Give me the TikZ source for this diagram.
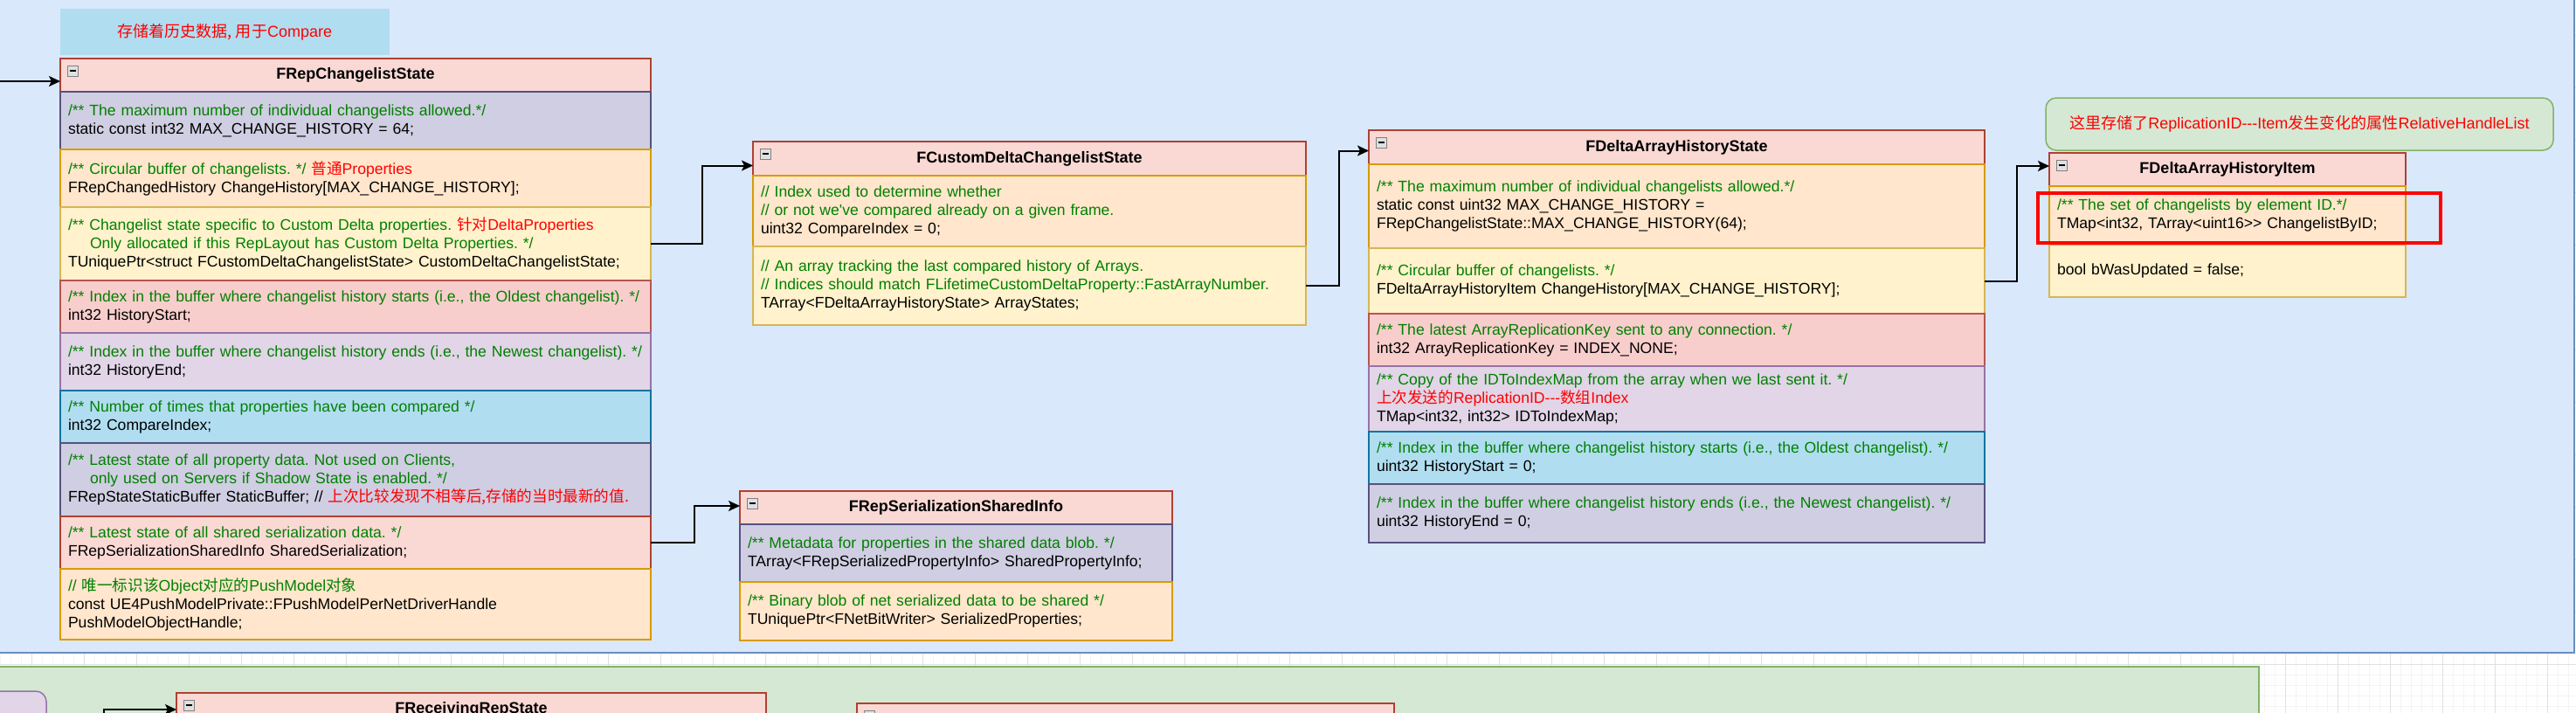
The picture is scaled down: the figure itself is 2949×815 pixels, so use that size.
\documentclass[tikz,border=0pt]{standalone}
\usepackage{fontspec}
\setmainfont{Liberation Sans}[Ligatures=TeXOff]
\newfontfamily\cjk{Noto Sans CJK SC}
\usetikzlibrary{positioning,arrows.meta}

\definecolor{bgblue}{HTML}{DAE8FC}
\definecolor{bgblueline}{HTML}{6C8EBF}
\definecolor{bggreen}{HTML}{D5E8D4}
\definecolor{bggreenline}{HTML}{82B366}
\definecolor{hdrfill}{HTML}{FAD9D5}
\definecolor{hdrline}{HTML}{AE4132}
\definecolor{purplefill}{HTML}{D0CEE2}
\definecolor{purpleline}{HTML}{56517E}
\definecolor{orangefill}{HTML}{FFE6CC}
\definecolor{orangeline}{HTML}{D79B00}
\definecolor{yellowfill}{HTML}{FFF2CC}
\definecolor{yellowline}{HTML}{D6B656}
\definecolor{redfill}{HTML}{F8CECC}
\definecolor{redline}{HTML}{B85450}
\definecolor{pinkfill}{HTML}{E1D5E7}
\definecolor{pinkline}{HTML}{9673A6}
\definecolor{bluefill}{HTML}{B1DDF0}
\definecolor{blueline}{HTML}{10739E}
\definecolor{codegreen}{RGB}{0,128,0}
\definecolor{notered}{RGB}{255,0,0}
\definecolor{gridminor}{HTML}{F4F4F4}
\definecolor{gridmajor}{HTML}{E0E0E0}

\newcommand{\cmnt}[1]{{\color{codegreen}\mbox{#1}}}
\newcommand{\zhred}[1]{{\color{notered}\cjk #1}}
\newcommand{\redtxt}[1]{{\color{notered}#1}}
\newcommand{\foldmark}[1]{%
  \draw[draw=gray, fill=black!12, line width=0.8pt] ([xshift=8pt,yshift=-8pt]#1.north west) rectangle ++(12,-12);
  \draw[line width=1.6pt] ([xshift=10.5pt,yshift=-14pt]#1.north west) -- ++(7,0);}

\tikzset{
  hdr/.style={draw=hdrline, fill=hdrfill, anchor=north west, align=center, font=\fontsize{18}{21}\selectfont\bfseries, minimum height=38pt, inner xsep=9pt, inner ysep=0pt, outer sep=0pt},
  row/.style={align=left, font=\fontsize{17.6}{21}\selectfont\frenchspacing, inner xsep=9pt, inner ysep=0pt, outer sep=0pt},
  cpurple/.style={row, draw=purpleline, fill=purplefill},
  corange/.style={row, draw=orangeline, fill=orangefill},
  cyellow/.style={row, draw=yellowline, fill=yellowfill},
  cred/.style={row, draw=redline, fill=redfill},
  cpink/.style={row, draw=pinkline, fill=pinkfill},
  cblue/.style={row, draw=blueline, fill=bluefill},
  csalmon/.style={row, draw=hdrline, fill=hdrfill},
  conn/.style={->, line width=2pt},
  hilite/.style={draw=notered, line width=3.5pt, fill=none},
}

\begin{document}
\frenchspacing
\begin{tikzpicture}[x=1pt, y=1pt, line width=1.5pt, font=\fontsize{18}{21}\selectfont\frenchspacing,
  >={Stealth[length=13pt,width=12pt,inset=3pt]}]
\useasboundingbox (0,0) rectangle (2949,-815);

% canvas and grid
\fill[white] (0,0) rectangle (2949,-815);
\begin{scope}[shift={(36,-40)}]
\draw[gridminor, line width=0.6pt, step=12pt] (-48,52) grid (2925,-787);
\draw[gridmajor, line width=0.8pt, step=60pt] (-48,52) grid (2925,-787);
\end{scope}

% containers
\draw[draw=bgblueline, fill=bgblue] (-20,20) rectangle (2947,-747);
\draw[draw=bggreenline, fill=bggreen] (-20,-763) rectangle (2586,-850);
\draw[draw=pinkline, fill=pinkfill, rounded corners=12pt] (-20,-791) rectangle (53,-850);

% notes
\node[fill=bluefill, minimum width=377pt, minimum height=53pt, inner sep=0pt] (note1) at (257.5,-36.5)
  {\zhred{存储着历史数据, 用于}\redtxt{Compare}};
\node[draw=bggreenline, fill=bggreen, rounded corners=12pt, minimum width=581pt, minimum height=60pt, inner sep=0pt] (note2) at (2632.5,-142)
  {\zhred{这里存储了}\redtxt{ReplicationID-{}-{}-Item}\zhred{发生变化的属性}\redtxt{RelativeHandleList}};

% FRepChangelistState
\node[hdr, text width=658pt] (rcs) at (69,-67) {FRepChangelistState};
\node[cpurple, text width=658pt, minimum height=66pt, below=0pt of rcs] (rcs1)
  {\cmnt{/** The maximum number of individual changelists allowed.*/}\\
   static const int32 MAX\_CHANGE\_HISTORY = 64;};
\node[corange, text width=658pt, minimum height=66pt, below=0pt of rcs1] (rcs2)
  {\cmnt{/** Circular buffer of changelists. */} \zhred{普通}\redtxt{Properties}\\
   FRepChangedHistory ChangeHistory[MAX\_CHANGE\_HISTORY];};
\node[cyellow, text width=658pt, minimum height=84pt, below=0pt of rcs2] (rcs3)
  {\cmnt{/** Changelist state specific to Custom Delta properties.} \zhred{针对}\redtxt{DeltaProperties}\\
   \hspace*{25pt}\cmnt{Only allocated if this RepLayout has Custom Delta Properties. */}\\
   TUniquePtr<struct FCustomDeltaChangelistState> CustomDeltaChangelistState;};
\node[cred, text width=658pt, minimum height=60pt, below=0pt of rcs3] (rcs4)
  {\cmnt{/** Index in the buffer where changelist history starts (i.e., the Oldest changelist). */}\\
   int32 HistoryStart;};
\node[cpink, text width=658pt, minimum height=66pt, below=0pt of rcs4] (rcs5)
  {\cmnt{/** Index in the buffer where changelist history ends (i.e., the Newest changelist). */}\\
   int32 HistoryEnd;};
\node[cblue, text width=658pt, minimum height=60pt, below=0pt of rcs5] (rcs6)
  {\cmnt{/** Number of times that properties have been compared */}\\
   int32 CompareIndex;};
\node[cpurple, text width=658pt, minimum height=84pt, below=0pt of rcs6] (rcs7)
  {\cmnt{/** Latest state of all property data. Not used on Clients,}\\
   \hspace*{25pt}\cmnt{only used on Servers if Shadow State is enabled. */}\\
   FRepStateStaticBuffer StaticBuffer; // \zhred{上次比较发现不相等后,存储的当时最新的值.}};
\node[csalmon, text width=658pt, minimum height=60pt, below=0pt of rcs7] (rcs8)
  {\cmnt{/** Latest state of all shared serialization data. */}\\
   FRepSerializationSharedInfo SharedSerialization;};
\node[corange, text width=658pt, minimum height=81pt, below=0pt of rcs8] (rcs9)
  {\cmnt{// {\cjk 唯一标识该}Object{\cjk 对应的}PushModel{\cjk 对象}}\\
   const UE4PushModelPrivate::FPushModelPerNetDriverHandle\\
   PushModelObjectHandle;};
\foldmark{rcs}

% FCustomDeltaChangelistState
\node[hdr, text width=615pt, minimum height=39pt] (fcd) at (862,-162) {FCustomDeltaChangelistState};
\node[corange, text width=615pt, minimum height=81pt, below=0pt of fcd] (fcd1)
  {\cmnt{// Index used to determine whether}\\
   \cmnt{// or not we've compared already on a given frame.}\\
   uint32 CompareIndex = 0;};
\node[cyellow, text width=615pt, minimum height=90pt, below=0pt of fcd1] (fcd2)
  {\cmnt{// An array tracking the last compared history of Arrays.}\\
   \cmnt{// Indices should match FLifetimeCustomDeltaProperty::FastArrayNumber.}\\
   TArray<FDeltaArrayHistoryState> ArrayStates;};
\foldmark{fcd}

% FRepSerializationSharedInfo
\node[hdr, text width=477pt] (frs) at (847,-562) {FRepSerializationSharedInfo};
\node[cpurple, text width=477pt, minimum height=66pt, below=0pt of frs] (frs1)
  {\cmnt{/** Metadata for properties in the shared data blob. */}\\
   TArray<FRepSerializedPropertyInfo> SharedPropertyInfo;};
\node[corange, text width=477pt, minimum height=67pt, below=0pt of frs1] (frs2)
  {\cmnt{/** Binary blob of net serialized data to be shared */}\\
   TUniquePtr<FNetBitWriter> SerializedProperties;};
\foldmark{frs}

% FDeltaArrayHistoryState
\node[hdr, text width=687pt, minimum height=39pt] (fdh) at (1567,-149) {FDeltaArrayHistoryState};
\node[corange, text width=687pt, minimum height=96pt, below=0pt of fdh] (fdh1)
  {\cmnt{/** The maximum number of individual changelists allowed.*/}\\
   static const uint32 MAX\_CHANGE\_HISTORY =\\
   FRepChangelistState::MAX\_CHANGE\_HISTORY(64);};
\node[cyellow, text width=687pt, minimum height=75pt, below=0pt of fdh1] (fdh2)
  {\cmnt{/** Circular buffer of changelists. */}\\
   FDeltaArrayHistoryItem ChangeHistory[MAX\_CHANGE\_HISTORY];};
\node[cred, text width=687pt, minimum height=60pt, below=0pt of fdh2] (fdh3)
  {\cmnt{/** The latest ArrayReplicationKey sent to any connection. */}\\
   int32 ArrayReplicationKey = INDEX\_NONE;};
\node[cpink, text width=687pt, minimum height=75pt, below=0pt of fdh3] (fdh4)
  {\cmnt{/** Copy of the IDToIndexMap from the array when we last sent it. */}\\
   \zhred{上次发送的}\redtxt{ReplicationID-{}-{}-}\zhred{数组}\redtxt{Index}\\
   TMap<int32, int32> IDToIndexMap;};
\node[cblue, text width=687pt, minimum height=60pt, below=0pt of fdh4] (fdh5)
  {\cmnt{/** Index in the buffer where changelist history starts (i.e., the Oldest changelist). */}\\
   uint32 HistoryStart = 0;};
\node[cpurple, text width=687pt, minimum height=67pt, below=0pt of fdh5] (fdh6)
  {\cmnt{/** Index in the buffer where changelist history ends (i.e., the Newest changelist). */}\\
   uint32 HistoryEnd = 0;};
\foldmark{fdh}

% FDeltaArrayHistoryItem
\node[hdr, text width=390pt] (fdi) at (2346,-175) {FDeltaArrayHistoryItem};
\node[corange, text width=390pt, minimum height=67pt, below=0pt of fdi] (fdi1)
  {\cmnt{/** The set of changelists by element ID.*/}\\
   TMap<int32, TArray<uint16>> ChangelistByID;};
\node[cyellow, text width=390pt, minimum height=60pt, below=0pt of fdi1] (fdi2)
  {bool bWasUpdated = false;};
\foldmark{fdi}
\node[hilite, minimum width=461pt, minimum height=57pt] (mark) at (2563.5,-249.5) {};

% lower lane
\node[hdr, text width=657pt] (frcv) at (202,-793) {FReceivingRepState};
\foldmark{frcv}
\node[hdr, text width=597pt] (fnext) at (981,-805) {};
\foldmark{fnext}

% connectors
\coordinate (feed) at (0,-93);
\coordinate (rcvsrc) at (119,-840);
\draw[conn] (feed) -- (feed -| rcs.west);
\draw[conn] (rcs3.east) -- ++(59,0) |- ([yshift=-8pt]fcd.west);
\draw[conn] (rcs8.east) -- ++(50,0) |- ([yshift=2pt]frs.west);
\draw[conn] (fcd2.east) -- ++(38,0) |- ([yshift=-4pt]fdh.west);
\draw[conn] (fdh2.east) -- ++(37,0) |- ([yshift=4pt]fdi.west);
\draw[conn] (rcvsrc) |- (frcv.west);

\end{tikzpicture}
\end{document}
